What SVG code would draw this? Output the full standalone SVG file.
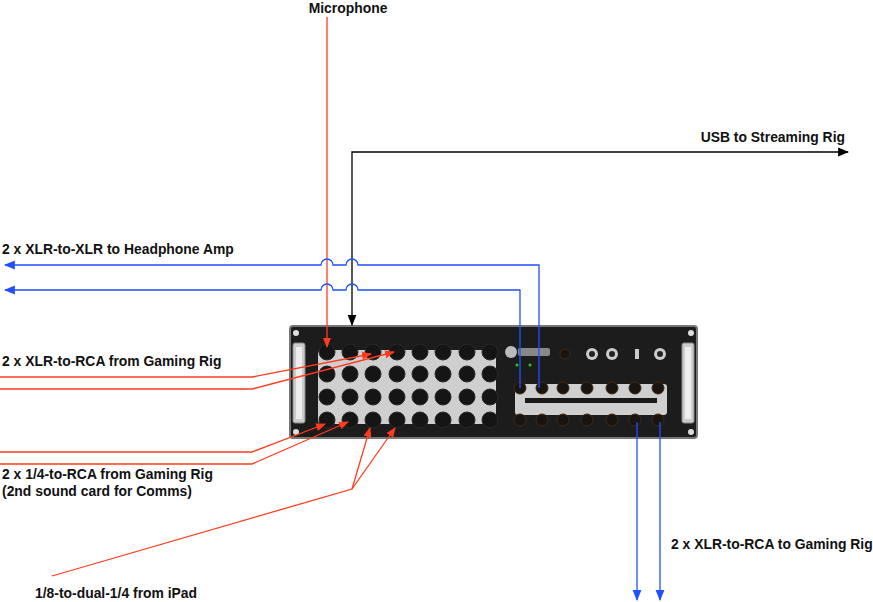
<svg xmlns="http://www.w3.org/2000/svg" width="873" height="602" viewBox="0 0 873 602">
<defs>
<style>
text{font-family:"Liberation Sans",Arial,sans-serif;font-weight:bold;font-size:13.9px;fill:#111}
.r{stroke:#ff3b1f;stroke-width:1.3;fill:none}
.b{stroke:#2150ff;stroke-width:1.3;fill:none}
.k{stroke:#000;stroke-width:1.3;fill:none}
.jk{fill:#151515;stroke:#2a2a2a;stroke-width:1}
.xo{fill:#1a1410;stroke:#3a2a1e;stroke-width:1}
</style>
<marker id="ar" viewBox="0 0 10 10" refX="9" refY="5" markerWidth="10" markerHeight="10" orient="auto-start-reverse" markerUnits="userSpaceOnUse"><path d="M0,1L10,5L0,9z" fill="#ff3b1f"/></marker>
<marker id="ab" viewBox="0 0 10 10" refX="9" refY="5" markerWidth="11" markerHeight="11" orient="auto-start-reverse" markerUnits="userSpaceOnUse"><path d="M0,1L10,5L0,9z" fill="#2150ff"/></marker>
<marker id="ak" viewBox="0 0 10 10" refX="9" refY="5" markerWidth="11" markerHeight="11" orient="auto-start-reverse" markerUnits="userSpaceOnUse"><path d="M0,1L10,5L0,9z" fill="#000"/></marker>
</defs>
<g id="mixer">
<rect x="290" y="326" width="407" height="112" rx="3" fill="#1c1c1c" stroke="#777" stroke-width="2"/>
<rect x="293" y="343" width="12" height="80" rx="2" fill="#ccc" stroke="#888"/>
<rect x="296" y="347" width="6" height="72" fill="#eee"/>
<rect x="682" y="343" width="12" height="80" rx="2" fill="#ccc" stroke="#888"/>
<rect x="685" y="347" width="6" height="72" fill="#eee"/>
<circle cx="296" cy="333" r="3" fill="#ddd"/><circle cx="691" cy="333" r="3" fill="#ddd"/>
<circle cx="296" cy="432" r="3" fill="#ddd"/><circle cx="691" cy="432" r="3" fill="#ddd"/>
<rect x="318" y="350" width="178" height="74" rx="4" fill="#cfcfcf"/>
<g>
<circle class="jk" cx="327" cy="352" r="8"/><circle class="jk" cx="350" cy="352" r="8"/><circle class="jk" cx="373" cy="352" r="8"/><circle class="jk" cx="397" cy="352" r="8"/><circle class="jk" cx="420" cy="352" r="8"/><circle class="jk" cx="443" cy="352" r="8"/><circle class="jk" cx="467" cy="352" r="8"/><circle class="jk" cx="490" cy="352" r="8"/>
<circle class="jk" cx="327" cy="374" r="8"/><circle class="jk" cx="350" cy="374" r="8"/><circle class="jk" cx="373" cy="374" r="8"/><circle class="jk" cx="397" cy="374" r="8"/><circle class="jk" cx="420" cy="374" r="8"/><circle class="jk" cx="443" cy="374" r="8"/><circle class="jk" cx="467" cy="374" r="8"/><circle class="jk" cx="490" cy="374" r="8"/>
<circle class="jk" cx="327" cy="397" r="8"/><circle class="jk" cx="350" cy="397" r="8"/><circle class="jk" cx="373" cy="397" r="8"/><circle class="jk" cx="397" cy="397" r="8"/><circle class="jk" cx="420" cy="397" r="8"/><circle class="jk" cx="443" cy="397" r="8"/><circle class="jk" cx="467" cy="397" r="8"/><circle class="jk" cx="490" cy="397" r="8"/>
<circle class="jk" cx="327" cy="420" r="8"/><circle class="jk" cx="350" cy="420" r="8"/><circle class="jk" cx="373" cy="420" r="8"/><circle class="jk" cx="397" cy="420" r="8"/><circle class="jk" cx="420" cy="420" r="8"/><circle class="jk" cx="443" cy="420" r="8"/><circle class="jk" cx="467" cy="420" r="8"/><circle class="jk" cx="490" cy="420" r="8"/>
</g>
<rect x="515" y="384" width="152" height="31" rx="3" fill="#cfcfcf"/>
<rect x="525" y="398" width="132" height="5" fill="#1a1a1a"/>
<g>
<circle class="xo" cx="520" cy="388" r="6"/><circle class="xo" cx="542" cy="388" r="6"/><circle class="xo" cx="563" cy="388" r="6"/><circle class="xo" cx="587" cy="388" r="6"/><circle class="xo" cx="612" cy="388" r="6"/><circle class="xo" cx="635" cy="388" r="6"/><circle class="xo" cx="658" cy="388" r="6"/>
<circle class="xo" cx="520" cy="420" r="6"/><circle class="xo" cx="542" cy="420" r="6"/><circle class="xo" cx="563" cy="420" r="6"/><circle class="xo" cx="587" cy="420" r="6"/><circle class="xo" cx="612" cy="420" r="6"/><circle class="xo" cx="635" cy="420" r="6"/><circle class="xo" cx="658" cy="420" r="6"/>
</g>
<circle cx="511" cy="352" r="6" fill="#bbb"/>
<rect x="518" y="348" width="32" height="8" rx="2" fill="#888"/>
<circle cx="565" cy="354" r="5" class="xo"/>
<circle cx="592" cy="354" r="6" fill="#ccc"/><circle cx="592" cy="354" r="3" fill="#222"/>
<circle cx="612" cy="354" r="6" fill="#ccc"/><circle cx="612" cy="354" r="3" fill="#222"/>
<rect x="635" y="349" width="4" height="10" fill="#ccc"/>
<circle cx="660" cy="354" r="6" fill="#ccc"/><circle cx="660" cy="354" r="3" fill="#222"/>
<circle cx="517" cy="365" r="1.5" fill="#2c2"/><circle cx="530" cy="365" r="1.5" fill="#2c2"/>
</g>
<g id="connectors">
<path class="r" d="M327,17V347" marker-end="url(#ar)"/>
<path class="k" d="M848,152H352V325" marker-start="url(#ak)" marker-end="url(#ak)"/>
<path class="b" d="M539,388V265H358a6,6 0 0 0-12,0H333a6,6 0 0 0-12,0H5" marker-end="url(#ab)"/>
<path class="b" d="M520,388V290H358a6,6 0 0 0-12,0H333a6,6 0 0 0-12,0H5" marker-end="url(#ab)"/>
<path class="b" d="M637,422V600" marker-end="url(#ab)"/>
<path class="b" d="M660,422V600" marker-end="url(#ab)"/>
<path class="r" d="M0,377H252L371,354" marker-end="url(#ar)"/>
<path class="r" d="M0,389H252L394,352" marker-end="url(#ar)"/>
<path class="r" d="M0,452H252L325,424" marker-end="url(#ar)"/>
<path class="r" d="M0,464H252L348,422" marker-end="url(#ar)"/>
<path class="r" d="M52,576L352,489L370,428" marker-end="url(#ar)"/>
<path class="r" d="M352,489L395,428" marker-end="url(#ar)"/>
</g>
<g id="labels">
<text x="348" y="13" text-anchor="middle">Microphone</text>
<text x="845" y="142" text-anchor="end">USB to Streaming Rig</text>
<text x="2" y="254">2 x XLR-to-XLR to Headphone Amp</text>
<text x="2" y="366">2 x XLR-to-RCA from Gaming Rig</text>
<text x="2" y="479">2 x 1/4-to-RCA from Gaming Rig</text>
<text x="2" y="496">(2nd sound card for Comms)</text>
<text x="35" y="598">1/8-to-dual-1/4 from iPad</text>
<text x="671" y="549">2 x XLR-to-RCA to Gaming Rig</text>
</g>
</svg>
